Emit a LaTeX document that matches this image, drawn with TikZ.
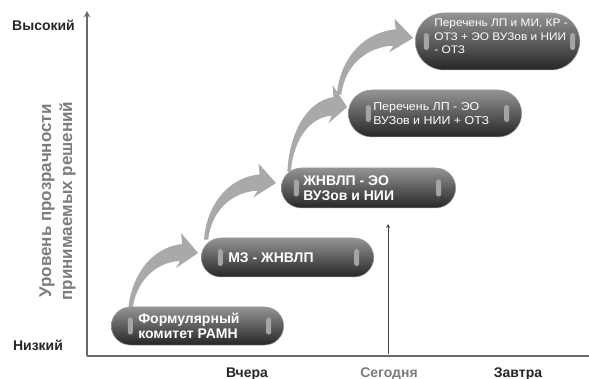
\documentclass[tikz,border=0pt]{standalone}
\usepackage{fontspec}
\setmainfont{Liberation Sans}
\newfontfamily\midsans[FakeStretch=1.08]{Liberation Sans}
\usepackage{xcolor}
\usetikzlibrary{arrows,backgrounds,calc,positioning,shapes.misc}
\definecolor{axisgray}{HTML}{6A6A6A}
\definecolor{flowgray}{HTML}{A9A9A9}
\definecolor{bargray}{HTML}{A4A4A4}
\definecolor{labeldark}{HTML}{262626}
\definecolor{labelgray}{HTML}{7C7C7C}
\tikzset{%
  axis/.style={line width=1.8pt,draw=axisgray},
  today/.style={line width=0.8pt,draw=black!75,-stealth},
  flow/.style={fill=flowgray},
  pill/.style 2 args={rounded rectangle,top color=black!42,bottom color=black!85,
    draw=black!40,line width=0.5pt,path picture={
      \fill[bargray,rounded corners=2.4pt]
        ($(path picture bounding box.west)+(#1-2.5pt,-8.5pt)$) rectangle ++(5pt,17pt);
      \fill[bargray,rounded corners=2.4pt]
        ($(path picture bounding box.east)+(-#2-2.5pt,-8.5pt)$) rectangle ++(5pt,17pt);}},
  boldtext/.style={text=white,align=left,inner sep=0pt,font=\bfseries\fontsize{14}{15}\selectfont},
  plaintext/.style={text=white,align=left,inner sep=0pt,font=\midsans\fontsize{11.5}{13.5}\selectfont},
  level/.style={text=labeldark,font=\bfseries\fontsize{14}{16}\selectfont},
}
% tapering grey arrow from #1 (tail) to #2 (tip)
\newcommand\flowarrow[2]{%
  \fill[flow] let \p1=(#1),\p2=(#2),\n1={\x2-\x1},\n2={\y2-\y1} in
    ({\x1-0.03*\n1},\y1) .. controls ({\x1},{\y1+0.54*\n2}) and ({\x1+0.265*\n1},{\y1+1.085*\n2})
    .. ({\x1+0.765*\n1},{\y1+1.153*\n2}) -- ({\x1+0.75*\n1},{\y1+1.34*\n2}) -- (\x2,\y2)
    -- ({\x1+0.676*\n1},{\y1+0.746*\n2}) -- ({\x1+0.735*\n1},{\y1+0.864*\n2})
    .. controls ({\x1+0.368*\n1},{\y1+0.847*\n2}) and ({\x1+0.074*\n1},{\y1+0.508*\n2})
    .. ({\x1+0.03*\n1},\y1) -- cycle;}

\begin{document}
\begin{tikzpicture}[x=1pt,y=-1pt]
  \useasboundingbox (0,0) rectangle (589,379);

  % axes
  \coordinate (origin) at (87,356);
  \draw[axis,-stealth] (origin) -- (87,11);
  \draw[axis] (origin) -- (590,356);
  \draw[today] (388,354) -- (388,224);

  \node[level] (high) at (43.5,25) {Высокий};
  \node[level] (low) at (38,345) {Низкий};
  \node[rotate=90,align=center,text=labelgray,font=\bfseries\fontsize{17}{21}\selectfont]
    (title) at (57.5,201) {Уровень прозрачности\\принимаемых решений};
  \node[level,anchor=base] (yesterday) at (247,377) {Вчера};
  \node[level,anchor=base,text=labelgray] (now) at (389,377) {Сегодня};
  \node[level,anchor=base] (tomorrow) at (518,377) {Завтра};

  % steps
  \node[pill={19pt}{15pt},minimum width=179pt,minimum height=38pt] (form) at (197.5,326) {};
  \node[boldtext,right=27pt of form.west] (formtext) {Формулярный\\комитет РАМН};

  \node[pill={19pt}{17pt},minimum width=179pt,minimum height=39pt] (mz) at (287.5,257.5) {};
  \node[boldtext,right=27pt of mz.west] (mztext) {МЗ - ЖНВЛП};

  \node[pill={15pt}{17pt},minimum width=181pt,minimum height=40pt] (zhnvlp) at (368.5,188) {};
  \node[boldtext,right=22pt of zhnvlp.west] (zhnvlptext) {ЖНВЛП - ЭО\\ВУЗов и НИИ};

  \node[pill={20pt}{15pt},minimum width=180pt,minimum height=47pt] (perLP) at (435,113.5) {};
  \node[plaintext,right=25pt of perLP.west] (perLPtext) {Перечень ЛП - ЭО\\ВУЗов и НИИ + ОТЗ};

  \node[pill={11pt}{7pt},minimum width=171pt,minimum height=57pt] (perMI) at (497.5,41.5) {};
  \node[plaintext,font=\midsans\fontsize{11}{13.5}\selectfont,right=19pt of perMI.west,yshift=5pt]
    (perMItext) {Перечень ЛП и МИ, КР -\\ОТЗ + ЭО ВУЗов и НИИ\\- ОТЗ};

  % curved arrows between the steps
  \coordinate (t1) at ([xshift=19pt,yshift=-5pt]form.west |- form.north);
  \coordinate (h1) at ([xshift=-3pt,yshift=4.5pt]mz.west);
  \coordinate (t2) at ([xshift=5pt,yshift=-2pt]mz.west |- mz.north);
  \coordinate (h2) at ([xshift=-5pt,yshift=5pt]zhnvlp.west);
  \coordinate (t3) at ([xshift=8pt,yshift=-4pt]zhnvlp.west |- zhnvlp.north);
  \coordinate (h3) at ([xshift=-1pt,yshift=6.5pt]perLP.west);
  \coordinate (t4) at ([xshift=-9pt,yshift=-5pt]perLP.west |- perLP.north);
  \coordinate (h4) at ([xshift=-2pt,yshift=3.5pt]perMI.west);
  \begin{scope}[on background layer]
    \flowarrow{t1}{h1}
    \flowarrow{t2}{h2}
    \flowarrow{t3}{h3}
    \flowarrow{t4}{h4}
  \end{scope}
\end{tikzpicture}
\end{document}
